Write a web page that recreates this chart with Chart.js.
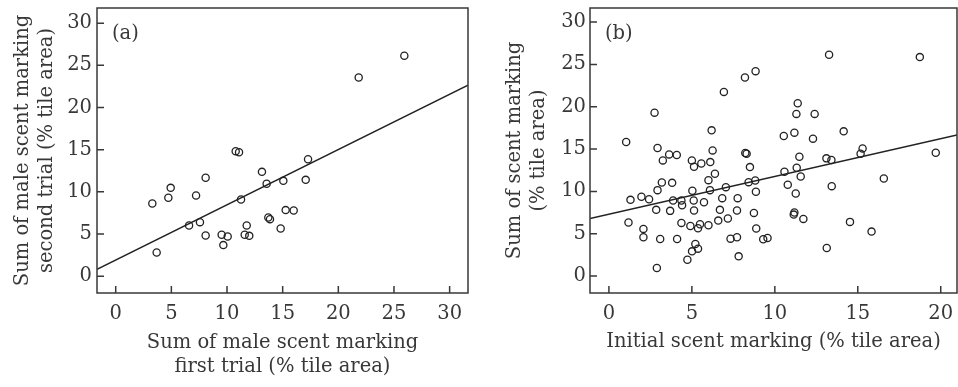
<!DOCTYPE html>
<html>
<head>
<meta charset="utf-8">
<script src="https://cdn.jsdelivr.net/npm/chart.js@4.4.1/dist/chart.umd.min.js"></script>
<style>
  html, body { margin: 0; padding: 0; background: #fff; }
  #wrap { position: relative; width: 958px; height: 387px; }
  #chartA { position: absolute; left: 0; top: 0; }
  #chartB { position: absolute; left: 480px; top: 0; }
</style>
</head>
<body>
<div id="wrap">
  <canvas id="chartA" width="480" height="387"></canvas>
  <canvas id="chartB" width="478" height="387"></canvas>
</div>
<script>
// (a) male scent marking, first vs second trial
const firstTrial = [3.29, 3.68, 4.73, 4.94, 6.59, 7.22, 7.57, 8.08, 8.08, 9.52, 9.67, 10.06, 10.78, 11.08, 11.26,
  11.77, 11.59, 12.0, 13.14, 13.56, 13.71, 13.86, 15.06, 14.82, 15.27, 15.99, 17.07, 17.28, 21.83, 25.93];
const secondTrial = [8.62, 2.81, 9.29, 10.47, 6.0, 9.57, 6.4, 11.66, 4.82, 4.9, 3.68, 4.7, 14.82, 14.7, 9.09,
  6.0, 4.9, 4.78, 12.37, 10.95, 6.96, 6.76, 11.3, 5.65, 7.83, 7.79, 11.42, 13.87, 23.56, 26.13];
const fitAx = [-1.68, 31.65];
const fitAy = [0.8, 22.65];

// (b) initial vs sum of scent marking
const initialMarking = [13.27, 18.74, 8.84, 8.2, 6.93, 2.75, 11.38, 11.3, 12.4, 6.19, 14.15, 11.18, 10.54, 12.3,
  1.04, 2.93, 6.25, 8.22, 8.3, 15.29, 15.17, 19.7, 3.63, 4.09, 3.25, 5.0, 5.13, 5.57, 6.11, 11.48, 13.11, 13.41,
  8.5, 11.32, 10.58, 6.39, 11.56, 16.57, 6.0, 3.19, 3.81, 8.42, 8.82, 10.78, 13.43, 7.05, 2.93, 6.09, 5.03, 8.86,
  11.26, 1.96, 2.42, 1.3, 3.87, 4.37, 6.83, 7.76, 5.11, 5.73, 4.41, 2.85, 3.69, 5.13, 6.69, 7.72, 8.74, 11.18,
  11.14, 1.18, 4.37, 5.49, 4.91, 5.37, 6.0, 6.59, 7.17, 11.72, 14.53, 2.08, 8.88, 15.83, 2.08, 3.09, 4.11, 7.33,
  7.72, 9.3, 9.56, 5.21, 5.37, 5.01, 13.13, 4.73, 7.82, 2.89];
const sumMarking = [26.13, 25.86, 24.2, 23.45, 21.75, 19.3, 20.41, 19.15, 19.15, 17.21, 17.09, 16.94, 16.54, 16.23,
  15.83, 15.12, 14.84, 14.53, 14.45, 15.08, 14.45, 14.57, 14.37, 14.29, 13.66, 13.66, 12.91, 13.3, 13.46, 14.09,
  13.9, 13.7, 12.87, 12.79, 12.32, 12.08, 11.76, 11.53, 11.33, 11.05, 11.01, 11.09, 11.29, 10.78, 10.62, 10.5,
  10.15, 10.15, 10.07, 9.95, 9.75, 9.36, 9.08, 9.0, 8.92, 8.92, 9.2, 9.2, 8.92, 8.72, 8.37, 7.82, 7.7, 7.74, 7.82,
  7.74, 7.46, 7.5, 7.26, 6.32, 6.28, 6.12, 5.92, 5.65, 6.0, 6.55, 6.79, 6.75, 6.4, 5.57, 5.61, 5.25, 4.58, 4.38,
  4.38, 4.42, 4.58, 4.34, 4.5, 3.79, 3.24, 2.92, 3.32, 1.93, 2.33, 0.95];
const fitBx = [-1.14, 20.98];
const fitBy = [6.79, 16.66];

const ticksA = [0, 5, 10, 15, 20, 25, 30];
const ticksBx = [0, 5, 10, 15, 20];
const ticksBy = [0, 5, 10, 15, 20, 25, 30];

const ink = '#383838';
const serif = '"DejaVu Serif", serif';
const fontSize = 19.5;

// box around the plot, inward tick marks and the panel letter
const framePlugin = {
  id: 'frame',
  afterDatasetsDraw(chart, args, opts) {
    const { ctx, chartArea: a, scales: { x, y } } = chart;
    ctx.save();
    ctx.strokeStyle = ink;
    ctx.lineWidth = 1.5;
    ctx.strokeRect(a.left, a.top, a.right - a.left, a.bottom - a.top);
    ctx.beginPath();
    x.ticks.forEach(t => {
      const px = x.getPixelForValue(t.value);
      ctx.moveTo(px, a.bottom);
      ctx.lineTo(px, a.bottom - 7);
    });
    y.ticks.forEach(t => {
      const py = y.getPixelForValue(t.value);
      ctx.moveTo(a.left, py);
      ctx.lineTo(a.left + 7, py);
    });
    ctx.stroke();
    ctx.fillStyle = ink;
    ctx.font = fontSize + 'px ' + serif;
    ctx.textBaseline = 'middle';
    ctx.fillText(opts.label, a.left + 15, a.top + 26);
    ctx.restore();
  }
};

function toPoints(xs, ys) {
  return xs.map((v, i) => ({ x: v, y: ys[i] }));
}

function makeChart(id, o) {
  return new Chart(document.getElementById(id), {
    type: 'scatter',
    data: {
      datasets: [
        {
          data: toPoints(o.xs, o.ys),
          pointStyle: 'circle',
          pointRadius: 3.6,
          pointBorderWidth: 1.3,
          pointBorderColor: '#222',
          pointBackgroundColor: 'rgba(0,0,0,0)',
        },
        {
          type: 'line',
          data: toPoints(o.fitX, o.fitY),
          borderColor: '#222',
          borderWidth: 1.4,
          pointRadius: 0,
          fill: false,
        },
      ],
    },
    options: {
      responsive: false,
      animation: false,
      layout: { autoPadding: false, padding: { top: 8, right: o.padRight, left: 0, bottom: 0 } },
      plugins: {
        legend: { display: false },
        tooltip: { enabled: false },
        frame: { label: o.label },
      },
      scales: {
        x: {
          type: 'linear',
          min: o.xMin,
          max: o.xMax,
          grid: { display: false, drawTicks: false },
          border: { display: false },
          afterBuildTicks: s => { s.ticks = o.xTicks.map(v => ({ value: v })); },
          afterFit: s => { s.height = 94; s.paddingLeft = 0; s.paddingRight = 0; },
          ticks: { color: ink, padding: 9, font: { family: serif, size: fontSize } },
          title: {
            display: true,
            text: o.xTitle,
            color: ink,
            font: { family: serif, size: fontSize, lineHeight: 1.23 },
            padding: { top: 0, bottom: o.xTitlePad },
          },
        },
        y: {
          type: 'linear',
          min: o.yMin,
          max: o.yMax,
          grid: { display: false, drawTicks: false },
          border: { display: false },
          afterBuildTicks: s => { s.ticks = o.yTicks.map(v => ({ value: v })); },
          afterFit: s => { s.width = o.yWidth; s.paddingTop = 0; s.paddingBottom = 0; },
          ticks: { color: ink, padding: o.yTickPad, font: { family: serif, size: fontSize } },
          title: {
            display: true,
            text: o.yTitle,
            color: ink,
            font: { family: serif, size: fontSize, lineHeight: 1.23 },
            padding: { top: o.yTitlePad, bottom: 0 },
          },
        },
      },
    },
    plugins: [framePlugin],
  });
}

makeChart('chartA', {
  xs: firstTrial, ys: secondTrial, fitX: fitAx, fitY: fitAy,
  xMin: -1.68, xMax: 31.65, yMin: -2.0, yMax: 31.8,
  xTicks: ticksA, yTicks: ticksA,
  padRight: 12, yWidth: 97, yTickPad: 5, yTitlePad: 11, xTitlePad: 8,
  label: '(a)',
  xTitle: ['Sum of male scent marking', 'first trial (% tile area)'],
  yTitle: ['Sum of male scent marking', 'second trial (% tile area)'],
});

makeChart('chartB', {
  xs: initialMarking, ys: sumMarking, fitX: fitBx, fitY: fitBy,
  xMin: -1.14, xMax: 20.98, yMin: -2.0, yMax: 31.66,
  xTicks: ticksBx, yTicks: ticksBy,
  padRight: 1, yWidth: 110, yTickPad: 4, yTitlePad: 23, xTitlePad: 33,
  label: '(b)',
  xTitle: 'Initial scent marking (% tile area)',
  yTitle: ['Sum of scent marking', '(% tile area)'],
});
</script>
</body>
</html>
